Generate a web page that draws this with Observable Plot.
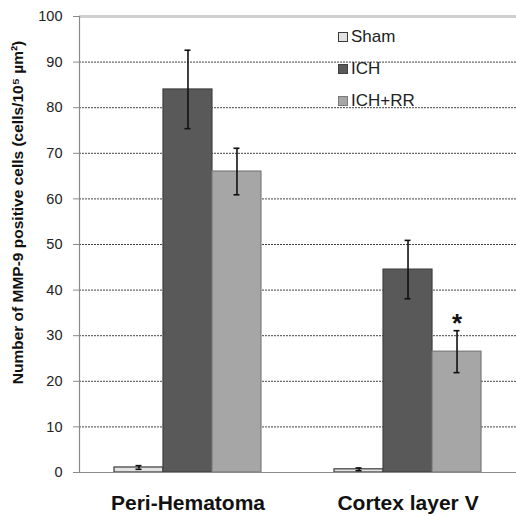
<!DOCTYPE html>
<html>
<head>
<meta charset="utf-8">
<script src="https://cdn.jsdelivr.net/npm/d3@7"></script>
<script src="https://cdn.jsdelivr.net/npm/@observablehq/plot@0.6"></script>
<style>
  html, body { margin: 0; padding: 0; background: #fff; }
  #wrap { position: relative; width: 516px; height: 516px; font-family: "Liberation Sans", Arial, sans-serif; }
  #legend { position: absolute; left: 338px; top: 30px; font-size: 17px; color: #222; }
  #legend .item { position: relative; height: 32px; line-height: 17px; }
  #legend .sw { position: absolute; left: 0; top: 2px; width: 8px; height: 8px; border: 1px solid #444; }
  #legend .lb { position: absolute; left: 13px; top: -2px; white-space: nowrap; }
</style>
</head>
<body>
<div id="wrap"><div id="chart"></div><div id="legend"></div></div>
<script>
const groups = ["Peri-Hematoma", "Cortex layer V"];
const series = ["Sham", "ICH", "ICH+RR"];
const shamMeans = [1.1, 0.7];
const ichMeans = [84, 44.5];
const rrMeans = [66, 26.5];
const shamErr = [0.4, 0.3];
const ichErr = [8.6, 6.4];
const rrErr = [5.1, 4.6];
const rrSignificance = ["", "*"];
const yTicks = [0, 10, 20, 30, 40, 50, 60, 70, 80, 90, 100];
const yTitle = "Number of MMP-9 positive cells (cells/10\u2075 \u00b5m\u00b2)";

const fills = {"Sham": "#e2e2e2", "ICH": "#595959", "ICH+RR": "#a6a6a6"};
const strokes = {"Sham": "#3a3a3a", "ICH": "#404040", "ICH+RR": "#7a7a7a"};

const meansBySeries = [shamMeans, ichMeans, rrMeans];
const errBySeries = [shamErr, ichErr, rrErr];
const rows = [];
groups.forEach((g, gi) => series.forEach((s, si) => rows.push({
  group: g, series: s, si, value: meansBySeries[si][gi], err: errBySeries[si][gi],
  sig: si === 2 ? rrSignificance[gi] : ""
})));

const W = 516, H = 516, mL = 79, mR = 0, mT = 16, mB = 44;
const pIn = 0.332, pOut = 0.159;
const step = (W - mL - mR) / (groups.length - pIn + 2 * pOut);
const bw = step * (1 - pIn);
const sub = bw / series.length;
const capHalf = 3;

const marks = [
  Plot.gridY(yTicks.filter(t => t > 0 && t < 100), {stroke: "#444", strokeOpacity: 1, strokeDasharray: "2,1", strokeWidth: 1}),
  Plot.ruleY([100], {stroke: "#cfcfcf", strokeWidth: 3}),
];
series.forEach((s, si) => {
  const d = rows.filter(r => r.series === s);
  marks.push(Plot.barY(d, {
    x: "group", y: "value", fill: fills[s], stroke: strokes[s], strokeWidth: 1.2,
    insetLeft: sub * si, insetRight: sub * (series.length - 1 - si)
  }));
});
series.forEach((s, si) => {
  const d = rows.filter(r => r.series === s);
  const c = sub * (si + 0.5);
  marks.push(Plot.ruleX(d, {x: "group", y1: r => r.value - r.err, y2: r => r.value + r.err, dx: c - bw / 2, stroke: "#111", strokeWidth: 1.6}));
  marks.push(Plot.tickY(d, {x: "group", y: r => r.value + r.err, insetLeft: c - capHalf, insetRight: bw - c - capHalf, stroke: "#111", strokeWidth: 1.6}));
  marks.push(Plot.tickY(d, {x: "group", y: r => r.value - r.err, insetLeft: c - capHalf, insetRight: bw - c - capHalf, stroke: "#111", strokeWidth: 1.6}));
  marks.push(Plot.text(d.filter(r => r.sig), {x: "group", y: r => r.value + r.err, text: "sig", dx: c - bw / 2, dy: 1, lineAnchor: "bottom", fontSize: 26, fontWeight: "bold", fill: "#111"}));
});
marks.push(
  Plot.ruleY([0], {stroke: "#8a8a8a", strokeWidth: 1.2}),
  Plot.frame({anchor: "left", stroke: "#8a8a8a", strokeWidth: 1.2}),
  Plot.axisY({ticks: yTicks, tickSize: 6, tickPadding: 11, fontSize: 14.5, stroke: "#8a8a8a", label: null, color: "#222"}),
  Plot.axisX({tickSize: 0, tickPadding: 23, fontSize: 21, fontWeight: "bold", label: null, color: "#111"}),
  Plot.text([yTitle], {frameAnchor: "left", textAnchor: "middle", lineAnchor: "middle", rotate: -90, dx: -61, dy: -32, fontSize: 15.5, fontWeight: "bold", fill: "#111"})
);

const chart = Plot.plot({
  width: W, height: H, marginLeft: mL, marginRight: mR, marginTop: mT, marginBottom: mB,
  style: {fontFamily: "'Liberation Sans', Arial, sans-serif", background: "#fff", color: "#222"},
  x: {domain: groups, paddingInner: pIn, paddingOuter: pOut, round: false, axis: null},
  y: {domain: [0, 100], axis: null},
  marks
});
document.getElementById("chart").appendChild(chart);

const legend = document.getElementById("legend");
series.forEach(s => {
  const item = document.createElement("div");
  item.className = "item";
  const sw = document.createElement("div");
  sw.className = "sw";
  sw.style.background = fills[s];
  sw.style.borderColor = strokes[s];
  const lb = document.createElement("div");
  lb.className = "lb";
  lb.textContent = s;
  item.appendChild(sw); item.appendChild(lb);
  legend.appendChild(item);
});
</script>
</body>
</html>
